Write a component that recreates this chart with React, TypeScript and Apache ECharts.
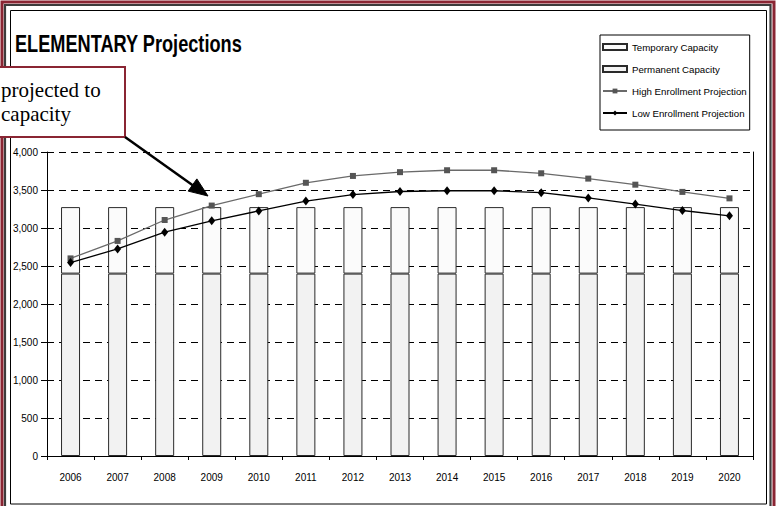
import React, { useEffect, useRef } from "react";
import * as echarts from "echarts";

const years = ["2006", "2007", "2008", "2009", "2010", "2011", "2012", "2013", "2014", "2015", "2016", "2017", "2018", "2019", "2020"];
const permanentCapacity = [2400, 2400, 2400, 2400, 2400, 2400, 2400, 2400, 2400, 2400, 2400, 2400, 2400, 2400, 2400];
const temporaryCapacity = [875, 875, 875, 875, 875, 875, 875, 875, 875, 875, 875, 875, 875, 875, 875];
const highProjection = [2600, 2830, 3105, 3295, 3445, 3595, 3685, 3735, 3760, 3760, 3720, 3650, 3570, 3475, 3390];
const lowProjection = [2545, 2725, 2945, 3095, 3225, 3355, 3440, 3480, 3490, 3490, 3465, 3395, 3315, 3230, 3160];
const seriesNames = ["Temporary Capacity", "Permanent Capacity", "High Enrollment Projection", "Low Enrollment Projection"];
const chartTitle = "ELEMENTARY Projections";
const calloutLines = ["projected to", "capacity"];

const MAROON = "#8a2533";
const SANS = "'Liberation Sans', Arial, sans-serif";

export default function App() {
  const ref = useRef<HTMLDivElement>(null);
  useEffect(() => {
    if (!ref.current) return;
    const chart = echarts.init(ref.current, null, { renderer: "svg" });
    // arrow geometry
    const sx = 125, sy = 137, tx = 208, ty = 196;
    const dx = tx - sx, dy = ty - sy, len = Math.hypot(dx, dy);
    const ux = dx / len, uy = dy / len;
    const hl = 19, hw = 7.5;
    const bx = tx - ux * hl, by = ty - uy * hl;
    const option: any = {
      animation: false,
      backgroundColor: "#fff",
      textStyle: { fontFamily: SANS },
      grid: { left: 47, right: 23, top: 152, bottom: 50, containLabel: false },
      legend: {
        orient: "vertical",
        left: 600,
        top: 35,
        itemWidth: 24,
        itemHeight: 6,
        itemGap: 12,
        padding: [7, 3, 12, 2],
        borderColor: "#000",
        borderWidth: 1,
        backgroundColor: "#fff",
        textStyle: { fontFamily: SANS, fontSize: 9.7, color: "#000" },
        data: [
          { name: seriesNames[0], icon: "rect" },
          { name: seriesNames[1], icon: "rect" },
          { name: seriesNames[2] },
          { name: seriesNames[3] },
        ],
      },
      xAxis: {
        type: "category",
        data: years,
        boundaryGap: true,
        axisLine: { show: true, lineStyle: { color: "#000", width: 1 } },
        axisTick: { show: true, alignWithLabel: false, length: 4, lineStyle: { color: "#000" } },
        axisLabel: { color: "#000", fontSize: 10, fontFamily: SANS, margin: 16 },
        splitLine: { show: false },
      },
      yAxis: [
        {
          type: "value",
          min: 0,
          max: 4000,
          interval: 500,
          axisLine: { show: true, lineStyle: { color: "#000", width: 1 } },
          axisTick: { show: true, length: 6, lineStyle: { color: "#000" } },
          axisLabel: {
            color: "#000",
            fontSize: 10,
            fontFamily: SANS,
            margin: 9,
            formatter: (v: number) => v.toLocaleString("en-US"),
          },
          splitLine: { show: true, lineStyle: { color: "#000", width: 1, type: [7, 5] } },
        },
        {
          type: "value",
          min: 0,
          max: 4000,
          interval: 500,
          position: "right",
          axisLine: { show: true, lineStyle: { color: "#000", width: 1 } },
          axisTick: { show: false },
          axisLabel: { show: false },
          splitLine: { show: false },
        },
      ],
      series: [
        {
          name: seriesNames[1],
          type: "bar",
          stack: "cap",
          data: permanentCapacity,
          barWidth: 19,
          itemStyle: { color: "#f2f2f2", borderColor: "#2a2a2a", borderWidth: 1 },
        },
        {
          name: seriesNames[0],
          type: "bar",
          stack: "cap",
          data: temporaryCapacity,
          barWidth: 19,
          itemStyle: { color: "#fbfbfb", borderColor: "#2a2a2a", borderWidth: 1 },
        },
        {
          name: seriesNames[2],
          type: "line",
          data: highProjection,
          symbol: "rect",
          symbolSize: 6,
          lineStyle: { color: "#6a6a6a", width: 1.3 },
          itemStyle: { color: "#555" },
          z: 5,
        },
        {
          name: seriesNames[3],
          type: "line",
          data: lowProjection,
          symbol: "diamond",
          symbolSize: [7, 9],
          lineStyle: { color: "#000", width: 1.3 },
          itemStyle: { color: "#000" },
          z: 6,
        },
      ],
      graphic: [
        { type: "rect", shape: { x: 2, y: 2, width: 772, height: 530 }, style: { fill: "none", stroke: MAROON, lineWidth: 3 }, z: 100 },
        { type: "rect", shape: { x: 5, y: 5, width: 765.5, height: 530 }, style: { fill: "none", stroke: "#3c3c3c", lineWidth: 2.2 }, z: 100 },
        { type: "rect", shape: { x: 10.5, y: 10.5, width: 756, height: 493.5 }, style: { fill: "none", stroke: "#000", lineWidth: 1 }, z: 100 },
        {
          type: "text",
          x: 15,
          y: 44,
          scaleX: 0.79,
          style: { text: chartTitle, font: `bold 23px ${SANS}`, fill: "#000", verticalAlign: "middle", align: "left" },
          z: 100,
        },
        {
          type: "rect",
          shape: { x: -12, y: 67, width: 137, height: 70 },
          style: { fill: "#fff", stroke: MAROON, lineWidth: 2 },
          z: 100,
        },
        {
          type: "text",
          x: 1,
          y: 89.5,
          style: { text: calloutLines[0], font: "21px 'Liberation Serif', 'Times New Roman', serif", fill: "#000", verticalAlign: "middle" },
          z: 101,
        },
        {
          type: "text",
          x: 1,
          y: 113.5,
          style: { text: calloutLines[1], font: "21px 'Liberation Serif', 'Times New Roman', serif", fill: "#000", verticalAlign: "middle" },
          z: 101,
        },
        {
          type: "line",
          shape: { x1: sx, y1: sy, x2: bx + ux * 2, y2: by + uy * 2 },
          style: { stroke: "#000", lineWidth: 2.5 },
          z: 101,
        },
        {
          type: "polygon",
          shape: { points: [[tx, ty], [bx - uy * hw, by + ux * hw], [bx + uy * hw, by - ux * hw]] },
          style: { fill: "#000", stroke: "#000", lineWidth: 1 },
          z: 101,
        },
      ],
    };
    chart.setOption(option);
    return () => chart.dispose();
  }, []);
  return (
    <div
      ref={ref}
      style={{ position: "fixed", left: 0, top: 0, width: 776, height: 506, background: "#fff" }}
    />
  );
}
